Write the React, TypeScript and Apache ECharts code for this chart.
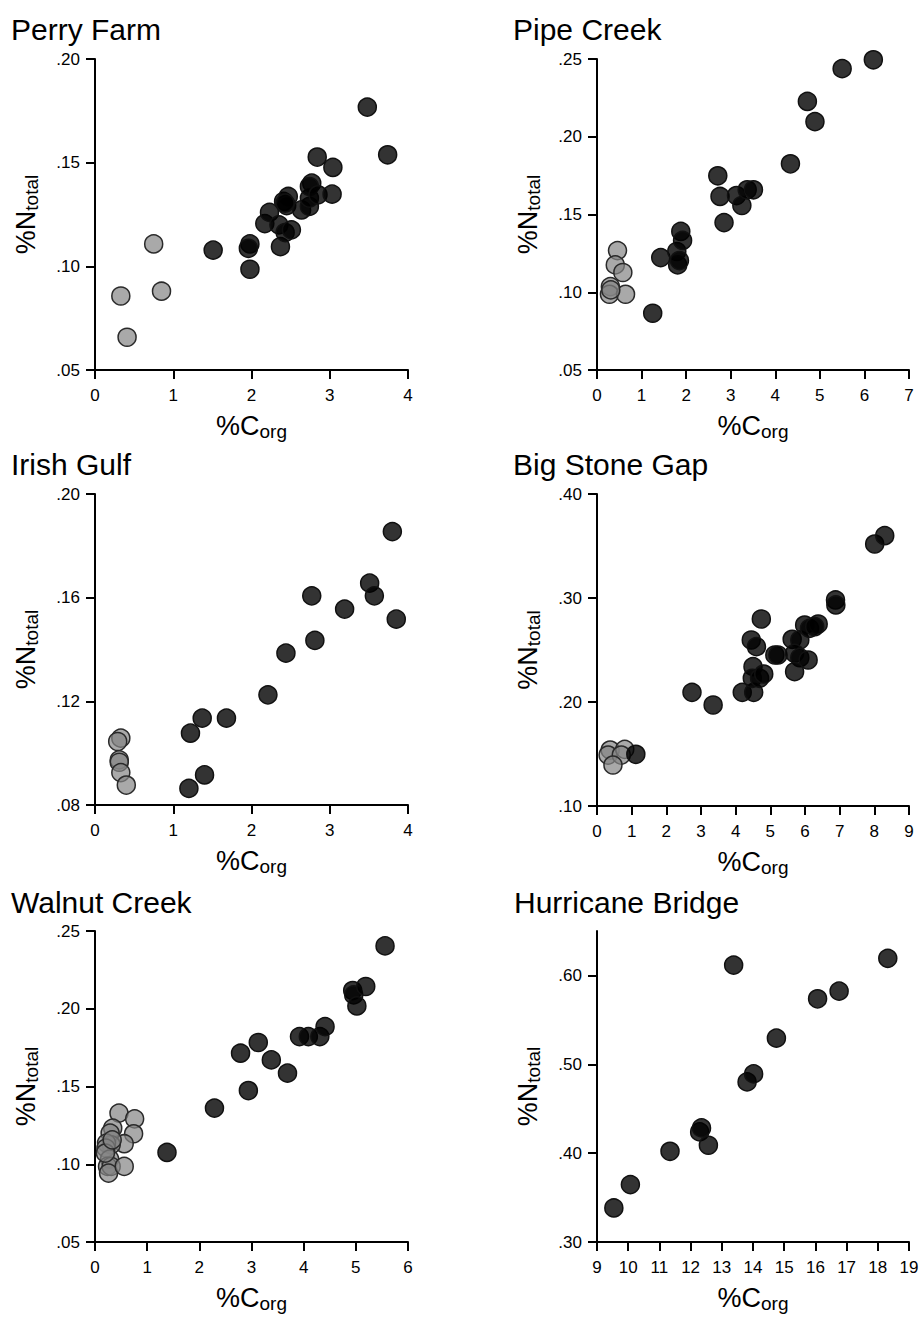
import React, { useEffect, useRef } from "react";
import * as echarts from "echarts";

const FONT = "'Liberation Sans', Arial, Helvetica, sans-serif";

const panelTitles = ["Perry Farm", "Pipe Creek", "Irish Gulf", "Big Stone Gap", "Walnut Creek", "Hurricane Bridge"];

// Perry Farm
const perryGray: number[][] = [
  [0.75, 0.1108], [0.33, 0.0857], [0.85, 0.088], [0.41, 0.0658],
];
const perryDark: number[][] = [
  [1.51, 0.1078], [1.98, 0.1108], [1.96, 0.1087], [1.98, 0.0986], [2.37, 0.1095],
  [2.17, 0.1206], [2.23, 0.126], [2.35, 0.12], [2.43, 0.1163], [2.51, 0.1176],
  [2.41, 0.1313], [2.47, 0.1337], [2.45, 0.1293], [2.64, 0.1272], [2.74, 0.1289],
  [2.74, 0.1329], [2.77, 0.1401], [2.74, 0.1385], [2.85, 0.1345], [2.84, 0.1527],
  [3.04, 0.1477], [3.03, 0.1348], [3.48, 0.1768], [3.74, 0.1538], [2.43, 0.1305],
];

// Pipe Creek
const pipeGray: number[][] = [
  [0.46, 0.1268], [0.41, 0.1176], [0.58, 0.1127], [0.3, 0.1036], [0.28, 0.0987],
  [0.64, 0.0987], [0.31, 0.1015],
];
const pipeDark: number[][] = [
  [1.25, 0.0865], [1.43, 0.1223], [1.79, 0.1262], [1.81, 0.1176], [1.85, 0.1204],
  [1.88, 0.1391], [1.92, 0.1333], [2.71, 0.1749], [2.76, 0.1616], [2.85, 0.1448],
  [3.13, 0.1622], [3.25, 0.1558], [3.37, 0.1659], [3.51, 0.1659], [4.34, 0.1826],
  [4.72, 0.2227], [4.89, 0.2097], [5.5, 0.2438], [6.2, 0.2495],
];

// Irish Gulf
const irishGray: number[][] = [
  [0.33, 0.1058], [0.29, 0.1045], [0.31, 0.0974], [0.31, 0.0965], [0.33, 0.0925],
  [0.4, 0.0877],
];
const irishDark: number[][] = [
  [1.2, 0.0864], [1.4, 0.0916], [1.22, 0.1077], [1.37, 0.1135], [1.68, 0.1135],
  [2.21, 0.1225], [2.44, 0.1386], [2.81, 0.1435], [2.77, 0.1607], [3.19, 0.1556],
  [3.51, 0.1656], [3.57, 0.1607], [3.85, 0.1517], [3.8, 0.1855],
];

// Big Stone Gap
const bigGray: number[][] = [
  [0.38, 0.1538], [0.32, 0.149], [0.8, 0.1545], [0.7, 0.149], [0.46, 0.1394],
];
const bigDark: number[][] = [
  [1.12, 0.1497], [2.74, 0.2093], [3.35, 0.1971], [4.19, 0.2093], [4.52, 0.2093],
  [4.45, 0.2596], [4.6, 0.2532], [4.74, 0.2798], [4.5, 0.234], [4.48, 0.2228],
  [4.69, 0.2228], [4.81, 0.2269], [5.13, 0.2452], [5.22, 0.2452], [5.63, 0.2603],
  [5.85, 0.2596], [5.7, 0.2468], [5.85, 0.2426], [6.09, 0.2404], [5.7, 0.2292],
  [5.99, 0.274], [6.13, 0.2708], [6.38, 0.275], [6.28, 0.2724], [6.88, 0.2981],
  [6.89, 0.2933], [8.01, 0.3519], [8.3, 0.3599],
];

// Walnut Creek
const walnutGray: number[][] = [
  [0.46, 0.1329], [0.76, 0.1292], [0.74, 0.1196], [0.34, 0.1232], [0.29, 0.12],
  [0.56, 0.1132], [0.31, 0.1125], [0.22, 0.1136], [0.21, 0.1104], [0.28, 0.1033],
  [0.24, 0.0986], [0.31, 0.0986], [0.26, 0.0943], [0.56, 0.0986], [0.2, 0.1072],
  [0.33, 0.1157],
];
const walnutDark: number[][] = [
  [1.38, 0.1076], [2.29, 0.1361], [2.94, 0.1474], [2.79, 0.1714], [3.13, 0.1783],
  [3.38, 0.1671], [3.69, 0.1586], [3.92, 0.1821], [4.09, 0.1821], [4.31, 0.1821],
  [4.41, 0.1885], [4.94, 0.2117], [4.96, 0.2089], [5.02, 0.2018], [5.19, 0.2143],
  [5.56, 0.2404],
];

// Hurricane Bridge
const hurricaneGray: number[][] = [];
const hurricaneDark: number[][] = [
  [9.54, 0.3383], [10.07, 0.3646], [11.34, 0.4021], [12.29, 0.4239], [12.35, 0.4284],
  [12.57, 0.4089], [13.38, 0.6116], [13.81, 0.4802], [14.02, 0.4892], [14.75, 0.5294],
  [16.07, 0.5737], [16.76, 0.5823], [18.32, 0.6192],
];

// axis ranges
const xMins = [0, 0, 0, 0, 0, 9];
const xMaxs = [4, 7, 4, 9, 6, 19];
const yMins = [0.05, 0.05, 0.08, 0.1, 0.05, 0.3];
const yMaxs = [0.2, 0.25, 0.2, 0.4, 0.25, 0.65];
const yIntervals = [0.05, 0.05, 0.04, 0.1, 0.05, 0.1];
const yTickValues = [
  [0.05, 0.1, 0.15, 0.2],
  [0.05, 0.1, 0.15, 0.2, 0.25],
  [0.08, 0.12, 0.16, 0.2],
  [0.1, 0.2, 0.3, 0.4],
  [0.05, 0.1, 0.15, 0.2, 0.25],
  [0.3, 0.4, 0.5, 0.6],
];

const grayData = [perryGray, pipeGray, irishGray, bigGray, walnutGray, hurricaneGray];
const darkData = [perryDark, pipeDark, irishDark, bigDark, walnutDark, hurricaneDark];

const gridBoxes = [
  { left: 95, top: 59, width: 313, height: 311 },
  { left: 597, top: 59, width: 312, height: 311 },
  { left: 95, top: 494, width: 313, height: 311 },
  { left: 597, top: 494, width: 312, height: 312 },
  { left: 95, top: 931, width: 313, height: 311 },
  { left: 597, top: 931, width: 312, height: 311 },
];
const titlePos = [
  { left: 11, top: 14 },
  { left: 513, top: 14 },
  { left: 11, top: 449 },
  { left: 513, top: 449 },
  { left: 11, top: 887 },
  { left: 514, top: 887 },
];

const nameRich = {
  m: { fontSize: 27, lineHeight: 27, verticalAlign: "top", color: "#000", fontFamily: FONT },
  s: { fontSize: 19, lineHeight: 19, padding: [12, 0, 0, 0], color: "#000", fontFamily: FONT },
};

export default function App() {
  const ref = useRef<HTMLDivElement>(null);
  useEffect(() => {
    if (!ref.current) return;
    const chart = echarts.init(ref.current, undefined, { renderer: "svg" });
    const lineStyle = { color: "#000", width: 2 };
    const option: any = {
      animation: false,
      backgroundColor: "#fff",
      title: panelTitles.map((t, i) => ({
        text: t,
        left: titlePos[i].left,
        top: titlePos[i].top,
        padding: 0,
        textStyle: { fontSize: 30, fontWeight: "normal", color: "#000", fontFamily: FONT },
      })),
      grid: gridBoxes.map((g) => ({ ...g, containLabel: false })),
      xAxis: gridBoxes.map((_, i) => ({
        type: "value",
        gridIndex: i,
        min: xMins[i],
        max: xMaxs[i],
        interval: 1,
        axisLine: { show: true, onZero: false, lineStyle },
        axisTick: { show: true, length: 9, lineStyle },
        splitLine: { show: false },
        axisLabel: { margin: 17, fontSize: 17, color: "#000", fontFamily: FONT },
        name: "{m|%C}{s|org}",
        nameLocation: "middle",
        nameGap: 42,
        nameTextStyle: { rich: nameRich },
      })),
      yAxis: gridBoxes.map((_, i) => ({
        type: "value",
        gridIndex: i,
        min: yMins[i],
        max: yMaxs[i],
        interval: yIntervals[i],
        axisLine: { show: true, onZero: false, lineStyle },
        axisTick: { show: true, length: 9, lineStyle, customValues: yTickValues[i] },
        splitLine: { show: false },
        axisLabel: {
          margin: 15,
          fontSize: 17,
          color: "#000",
          fontFamily: FONT,
          customValues: yTickValues[i],
          formatter: (v: number) => v.toFixed(2).replace(/^0/, ""),
        },
        name: "{m|%N}{s|total}",
        nameLocation: "middle",
        nameGap: 56,
        nameTextStyle: { rich: nameRich },
      })),
      series: [
        ...grayData.map((d, i) => ({
          type: "scatter",
          xAxisIndex: i,
          yAxisIndex: i,
          data: d,
          symbolSize: 18,
          itemStyle: { color: "rgba(133,133,133,0.7)", borderColor: "#2a2a2a", borderWidth: 1.5, opacity: 1 },
          emphasis: { disabled: true },
        })),
        ...darkData.map((d, i) => ({
          type: "scatter",
          xAxisIndex: i,
          yAxisIndex: i,
          data: d,
          symbolSize: 18,
          itemStyle: { color: "rgba(0,0,0,0.8)", borderColor: "#111", borderWidth: 1.5, opacity: 1 },
          emphasis: { disabled: true },
        })),
      ],
    };
    chart.setOption(option);
    return () => chart.dispose();
  }, []);
  return (
    <div
      ref={ref}
      style={{ position: "absolute", left: 0, top: 0, width: 922, height: 1320, background: "#fff" }}
    />
  );
}
